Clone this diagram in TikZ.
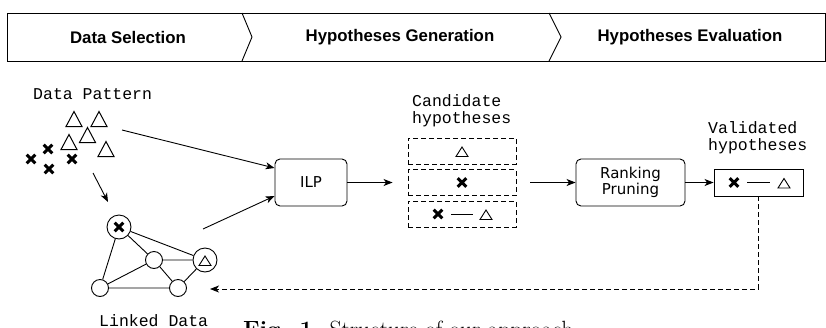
\documentclass[tikz,border=0pt]{standalone}
\usepackage{fontspec}
\newfontfamily\hdrfont{Liberation Sans}
\newfontfamily\boxfont{DejaVu Sans}
\newfontfamily\monofont{Liberation Mono}
\usetikzlibrary{arrows.meta}
\tikzset{
  conn/.style={line width=0.9pt, -{Stealth[length=9pt,width=7pt,inset=2.5pt]}},
  dconn/.style={line width=0.9pt, dash pattern=on 5pt off 3pt, -{Stealth[length=9pt,width=7pt,inset=2.5pt]}},
  hdrtext/.style={font=\hdrfont\bfseries\fontsize{16.8}{19}\selectfont, inner sep=0pt},
  mono/.style={font=\monofont\fontsize{16.5}{16.5}\selectfont, align=left, inner sep=0pt},
  procbox/.style={draw, line width=0.9pt, rounded corners=5pt, font=\boxfont\fontsize{15}{16.5}\selectfont, align=center, inner sep=0pt},
  candbox/.style={draw, line width=0.9pt, dash pattern=on 5pt off 3pt, minimum width=108pt, minimum height=26pt, inner sep=0pt},
  bignode/.style={draw, circle, line width=0.9pt, inner sep=0pt, minimum size=24pt},
  smallnode/.style={draw, circle, line width=0.9pt, inner sep=0pt, minimum size=17pt},
  xcross/.pic={\draw[line width=2.9pt] (-4.3,-4.3)--(4.3,4.3) (-4.3,4.3)--(4.3,-4.3);},
  bigtri/.pic={\draw[line width=1pt] (-8,7.5)--(8,7.5)--(0,-7.5)--cycle;},
  smalltri/.pic={\draw[line width=0.9pt] (-6,4.5)--(6,4.5)--(0,-5)--cycle;},
}
\begin{document}
\begin{tikzpicture}[x=1pt,y=-1pt]
\useasboundingbox (0,0) rectangle (826,327);
% header
\draw[line width=0.9pt] (7,13) -- (825,13) -- (825,61) -- (7,61) -- cycle;
\draw[line width=0.9pt] (242,13) -- (252,37) -- (242,61);
\draw[line width=0.9pt] (549,13) -- (561,37) -- (549,61);
\node[hdrtext] (hdr1) at (128,37) {Data Selection};
\node[hdrtext] (hdr2) at (400,37) {Hypotheses Generation};
\node[hdrtext] (hdr3) at (690,37) {Hypotheses Evaluation};
% data pattern
\node[mono, anchor=base west] (dp) at (33,99) {Data Pattern};
\pic at (74,119) {bigtri};
\pic at (99,119) {bigtri};
\pic at (87.5,135) {bigtri};
\pic at (69,142) {bigtri};
\pic at (106,149) {bigtri};
\pic at (48,149) {xcross};
\pic at (31,159) {xcross};
\pic at (49,169) {xcross};
\pic at (72,159) {xcross};
% linked data graph
\node[bignode] (gx) at (119,227) {};
\pic at (gx) {xcross};
\node[smallnode] (gm) at (154,260) {};
\node[bignode] (gt) at (205,260) {};
\pic at (205,261) {smalltri};
\node[smallnode] (gbl) at (100,288) {};
\node[smallnode] (gbr) at (178,288) {};
\draw[line width=0.9pt] (gx) -- (gbl) (gx) -- (gm) (gx) -- (gt) (gm) -- (gt)
  (gm) -- (gbl) (gm) -- (gbr) (gbl) -- (gbr) (gbr) -- (gt);
\node[mono, anchor=base west] (ld) at (99,326) {Linked Data};
% ILP
\node[procbox, minimum width=72pt, minimum height=47pt] (ilp) at (311,182.5) {ILP};
\coordinate (ps) at (122,130);
\coordinate (gs) at (203,229);
\coordinate (dds) at (93,173);
\coordinate (dde) at (108,202);
\draw[conn] (ps) -- ([yshift=14.5pt]ilp.west);
\draw[conn] (gs) -- ([yshift=-13.5pt]ilp.west);
\draw[conn] (dds) -- (dde);
% candidates
\node[mono, anchor=base west] (candlbl) at (412,123) {Candidate\\hypotheses};
\node[candbox] (c1) at (462,151) {};
\node[candbox] (c2) at (462,182.5) {};
\node[candbox] (c3) at (462,214) {};
\pic at (462,152) {smalltri};
\pic at (462,182.5) {xcross};
\pic at (438,214) {xcross};
\draw[line width=0.9pt] (451,214) -- (473,214);
\pic at (486,215) {smalltri};
\draw[conn] (ilp.east) -- ([xshift=-15pt]c2.west);
% ranking
\node[procbox, minimum width=109pt, minimum height=47pt] (rank) at (630.5,182.5) {Ranking\\Pruning};
\draw[conn] ([xshift=14pt]c2.east) -- (rank.west);
% validated
\node[mono, anchor=base west] (vallbl) at (708,150) {Validated\\hypotheses};
\node[draw, line width=0.9pt, minimum width=89pt, minimum height=27pt, inner sep=0pt] (valid) at (758.5,182.5) {};
\pic at (734,182.5) {xcross};
\draw[line width=0.9pt] (747,182.5) -- (770,182.5);
\pic at (784,183.5) {smalltri};
\draw[conn] (rank.east) -- (valid.west);
% feedback
\coordinate (ret) at (210,289);
\draw[dconn] (valid.south) -- (valid.south |- ret) -- (ret);
% caption
\node[anchor=base west, inner sep=0pt, font=\fontsize{23.5}{28}\selectfont] (cap) at (243,337) {\textbf{Fig. 1.} Structure of our approach};
\end{tikzpicture}
\end{document}
